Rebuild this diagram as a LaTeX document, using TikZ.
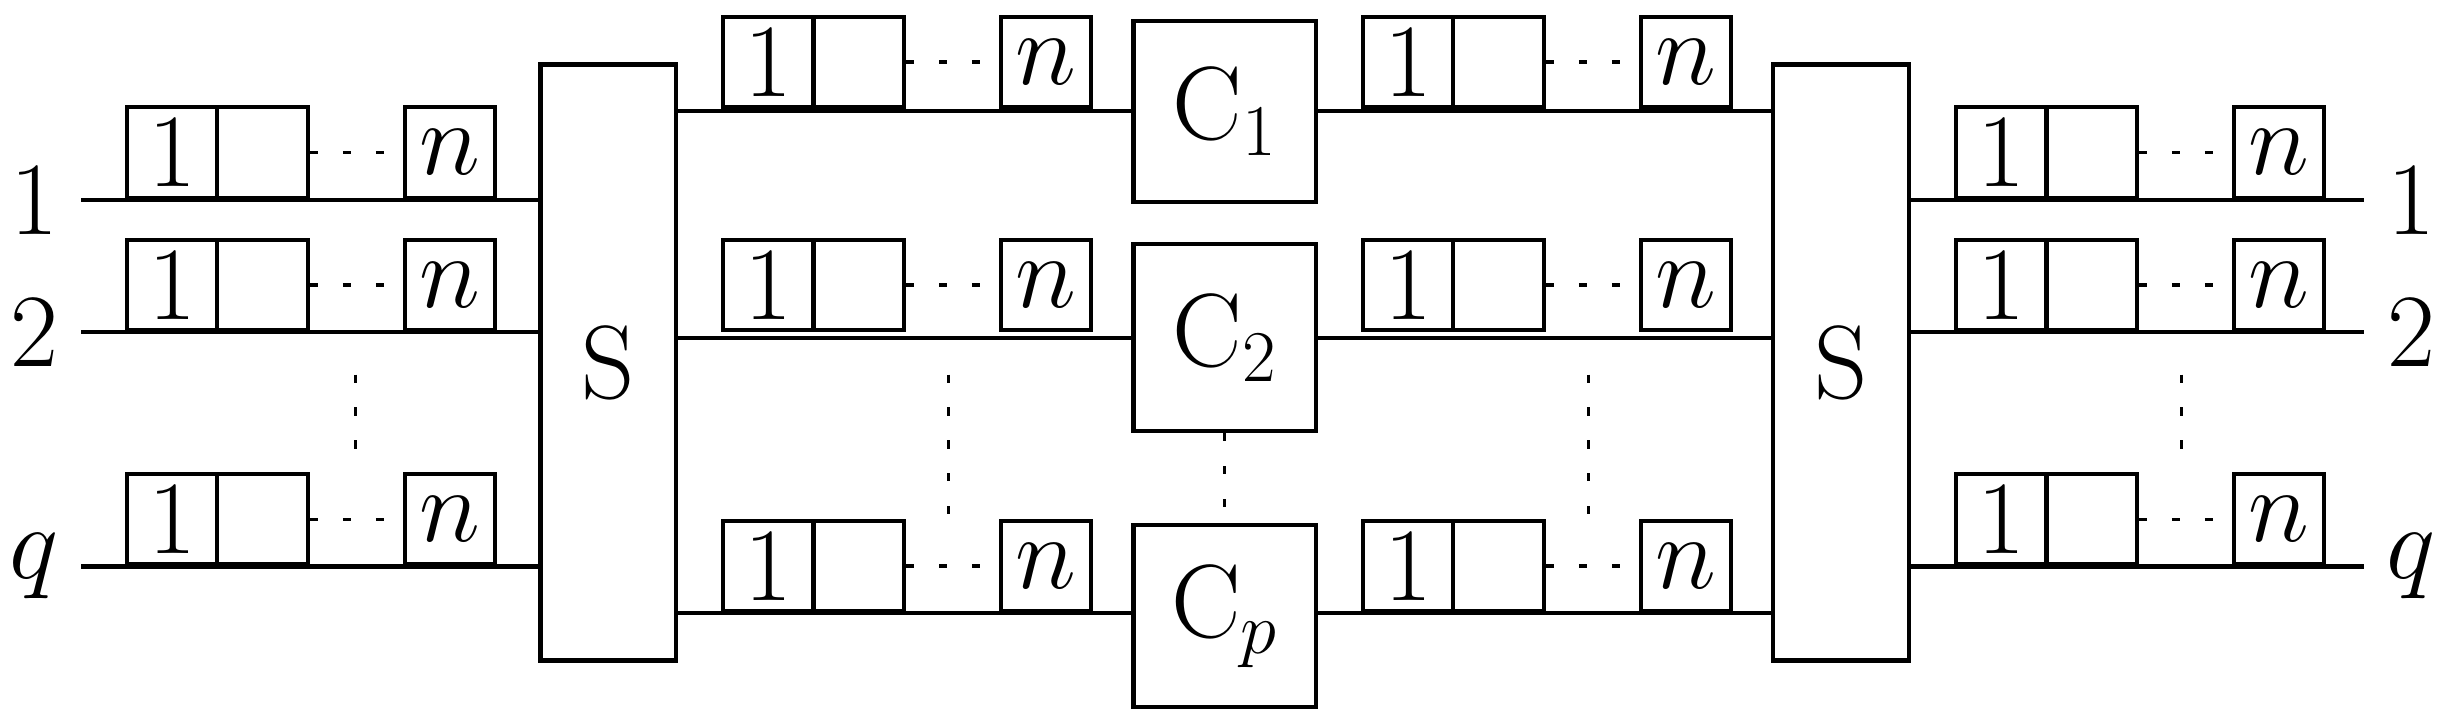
\RequirePackage{fix-cm}
\documentclass[tikz,border=0pt]{standalone}
\usepackage{anyfontsize}
\begin{document}
\begin{tikzpicture}[x=0.02cm,y=-0.02cm,line width=1.5pt,
  every node/.style={font=\fontsize{38}{44}\selectfont},
  cell/.style={draw,minimum width=1.16cm,minimum height=1.16cm,inner sep=0pt,anchor=south west},
  big/.style={draw,inner sep=0pt,anchor=north west},
  dots/.style={dash pattern=on 3pt off 9pt,line width=1.2pt}]
\useasboundingbox (0,0) rectangle (1568,460);
\newcommand\reg[3]{%
  \node[cell] (#3a) at (#1,#2) {1};
  \node[cell] (#3b) at (#1+58,#2) {};
  \node[cell] (#3n) at (#1+178,#2) {$n$};
  \draw[dots] (#3b.east) -- (#3n.west);}
\node (l1) at (22,128) {1}; \node (l2) at (22,213) {2}; \node (lq) at (22,363) {$q$};
\node (r1) at (1545,128) {1}; \node (r2) at (1545,213) {2}; \node (rq) at (1545,363) {$q$};
\node[big,minimum width=1.74cm,minimum height=7.64cm] (S1) at (345,40) {S};
\node[big,minimum width=1.74cm,minimum height=7.64cm] (S2) at (1135,40) {S};
\node[big,minimum width=2.34cm,minimum height=2.32cm] (C1) at (725,12) {C$_1$};
\node[big,minimum width=2.34cm,minimum height=2.4cm] (C2) at (725,155) {C$_2$};
\node[big,minimum width=2.34cm,minimum height=2.34cm] (Cp) at (725,335) {C$_p$};
\foreach \y in {128,213,363}{
  \coordinate (a\y) at (52,\y); \coordinate (b\y) at (1515,\y);
  \draw (a\y) -- (S1.west |- a\y);
  \draw (S2.east |- b\y) -- (b\y);}
\draw (S1.east |- C1.west) -- (C1.west);
\draw (S1.east |- C2.west) -- (C2.west);
\draw (S1.east |- 0,393) -- (Cp.west |- 0,393);
\draw (C1.east) -- (S2.west |- C1.east);
\draw (C2.east) -- (S2.west |- C2.east);
\draw (Cp.east |- 0,393) -- (S2.west |- 0,393);
\reg{80}{128}{La}\reg{80}{213}{Lb}\reg{80}{363}{Lc}
\reg{462}{70}{Ma}\reg{462}{213}{Mb}\reg{462}{393}{Mc}
\reg{872}{70}{Na}\reg{872}{213}{Nb}\reg{872}{393}{Nc}
\reg{1252}{128}{Ra}\reg{1252}{213}{Rb}\reg{1252}{363}{Rc}
\coordinate (v1) at (228,240); \coordinate (v2) at (228,300); \draw[dots] (v1) -- (v2);
\coordinate (v3) at (608,240); \coordinate (v4) at (608,330); \draw[dots] (v3) -- (v4);
\coordinate (v5) at (1018,240); \coordinate (v6) at (1018,330); \draw[dots] (v5) -- (v6);
\coordinate (v7) at (1398,240); \coordinate (v8) at (1398,300); \draw[dots] (v7) -- (v8);
\draw[dots] (C2.south) -- (Cp.north);
\end{tikzpicture}
\end{document}
